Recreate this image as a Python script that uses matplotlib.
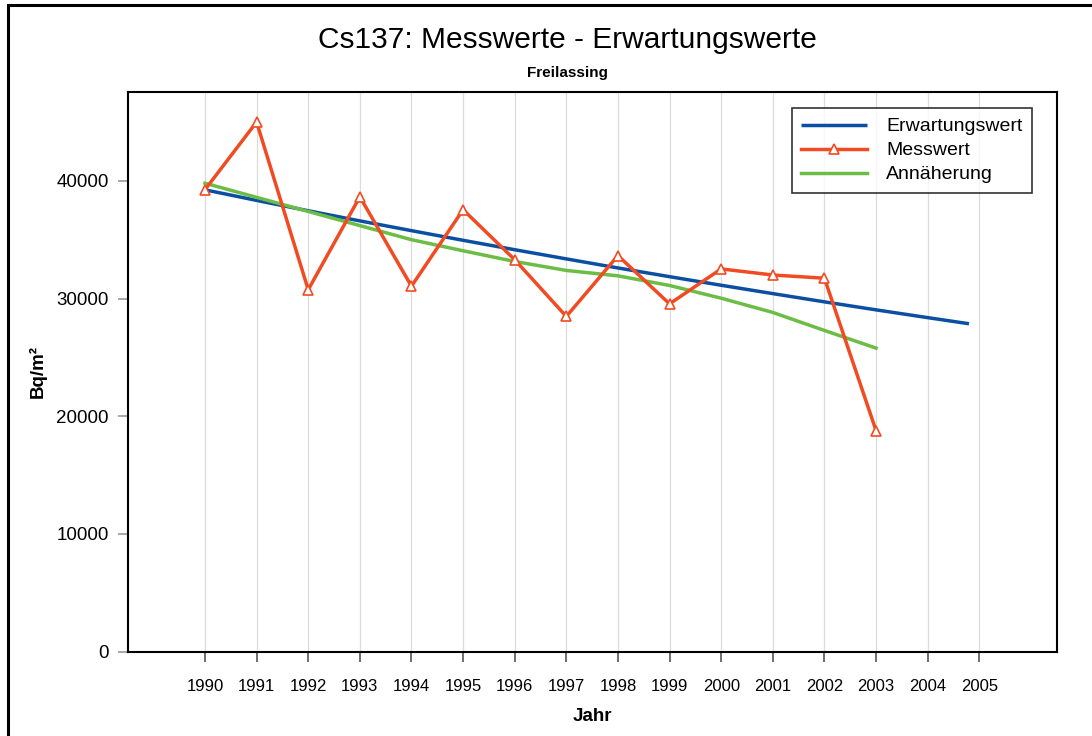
import numpy as np
import matplotlib
matplotlib.use('Agg')
import matplotlib.pyplot as plt
from matplotlib.patches import Rectangle

plt.rcParams['font.family'] = ['Liberation Sans', 'DejaVu Sans']

# data
jahre = [1990, 1991, 1992, 1993, 1994, 1995, 1996, 1997, 1998, 1999,
         2000, 2001, 2002, 2003]
messwert = [39250, 45000, 30750, 38650, 31050, 37550, 33300, 28480, 33650,
            29550, 32520, 32000, 31730, 18780]
annaeherung = [39800, 38600, 37400, 36200, 35000, 34060, 33150, 32390, 31930,
               31110, 30030, 28820, 27290, 25790]
erw_jahre = [1990, 1991, 1992, 1993, 1994, 1995, 1996, 1997, 1998, 1999,
             2000, 2001, 2002, 2003, 2004, 2004.8]
erwartungswert = [39240, 38340, 37460, 36600, 35770, 34950, 34150, 33370,
                  32600, 31860, 31130, 30420, 29720, 29040, 28380, 27860]
x_ticks = list(range(1990, 2006))
y_ticks = [0, 10000, 20000, 30000, 40000]

fig = plt.figure(figsize=(10.92, 7.36), dpi=100)
ax = fig.add_axes([0.1168, 0.1146, 0.8509, 0.7604])

blau = '#0b4fa3'
rot = '#f04b23'
gruen = '#6cbd45'

l1, = ax.plot(erw_jahre, erwartungswert, color=blau, lw=2.5, zorder=3,
              solid_capstyle='butt')
l3, = ax.plot(jahre, annaeherung, color=gruen, lw=2.5, zorder=4)
l2, = ax.plot(jahre, messwert, color=rot, lw=2.5, zorder=5, marker='^',
              markersize=7, markerfacecolor='white', markeredgecolor=rot,
              markeredgewidth=1.2)

ax.set_xlim(1988.5, 2006.5)
ax.set_ylim(0, 47550)
ax.set_xticks(x_ticks)
ax.set_xticklabels([str(j) for j in x_ticks])
ax.set_yticks(y_ticks)
ax.set_yticklabels([str(v) for v in y_ticks])

ax.grid(axis='x', color='#dcdcdc', lw=0.9)
ax.set_axisbelow(True)
for s in ax.spines.values():
    s.set_linewidth(1.5)
    s.set_color('black')

ax.tick_params(axis='x', length=7.5, width=1.2, color='#555555', pad=12.5,
               labelsize=12)
ax.tick_params(axis='y', length=7.5, width=1.2, color='#999999', pad=6,
               labelsize=13.5)

ax.set_xlabel('Jahr', fontsize=13.5, fontweight='bold', labelpad=10)
ax.set_ylabel('Bq/m²', fontsize=13.5, fontweight='bold', labelpad=7)

leg = ax.legend([l1, l2, l3], ['Erwartungswert', 'Messwert', 'Annäherung'],
                loc='upper right', bbox_to_anchor=(0.9734, 0.9714),
                fontsize=14, frameon=True, fancybox=False, handlelength=3.4,
                handletextpad=0.95, labelspacing=0.33, borderpad=0.5,
                borderaxespad=0)
leg.get_frame().set_edgecolor('black')
leg.get_frame().set_linewidth(1.2)

fig.text(567 / 1092, 1 - 40 / 736, 'Cs137: Messwerte - Erwartungswerte',
         ha='center', va='center', fontsize=21.5)
fig.text(567 / 1092, 1 - 73 / 736, 'Freilassing', ha='center', va='center',
         fontsize=11, fontweight='bold')

# outer frame (only top and left visible in the reference)
fig.patches.append(Rectangle((7.5 / 1092, -0.05), 1.2, 1.05 - 5 / 736,
                             transform=fig.transFigure, fill=False,
                             edgecolor='black', lw=2.2))

fig.savefig('out.png', dpi=100)
